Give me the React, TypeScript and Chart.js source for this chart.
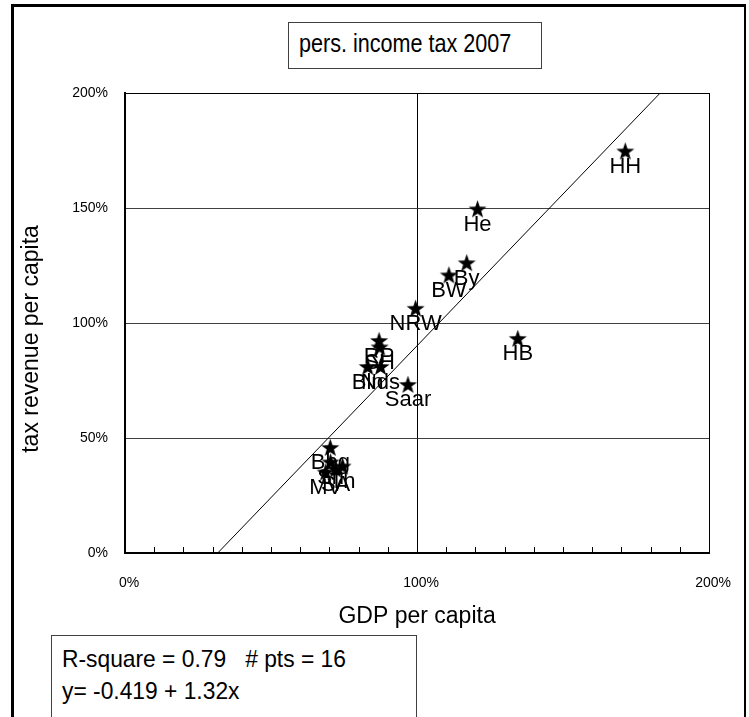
import React, { useEffect, useRef } from "react";
import { Chart, registerables } from "chart.js";

Chart.register(...registerables);

// ---- data ----
const STATES = ["HH", "He", "By", "BW", "NRW", "HB", "RP", "SH", "Bln", "Nds", "Saar", "Bbg", "Sn", "Th", "SA", "MV"];
const GDP_PER_CAPITA = [171.3, 120.7, 117.0, 110.9, 99.5, 134.5, 87.0, 87.2, 83.1, 87.5, 96.9, 70.3, 70.4, 74.5, 72.1, 68.7];
const TAX_PER_CAPITA = [174.8, 149.6, 126.2, 120.9, 106.4, 93.3, 92.4, 89.6, 81.1, 81.1, 73.3, 45.9, 39.6, 37.8, 36.5, 35.2];

const REG_INTERCEPT = -41.9; // percent points (= -0.419)
const REG_SLOPE = 1.32;
const AXIS_MIN = 0;
const AXIS_MAX = 200;
const X_TICK_STEP = 10;
const X_LABEL_STEP = 100;
const Y_TICK_STEP = 50;

const TITLE_TEXT = "pers. income tax 2007";
const X_TITLE = "GDP per capita";
const Y_TITLE = "tax revenue per capita";
const STATS_LINE1 = "R-square = 0.79   # pts = 16";
const STATS_LINE2 = "y= -0.419 + 1.32x";

const FONT = "'Liberation Sans', Arial, Helvetica, sans-serif";

function makeStar(r: number): HTMLCanvasElement {
  const c = document.createElement("canvas");
  const s = Math.ceil(r * 2 + 2);
  c.width = s;
  c.height = s;
  const g = c.getContext("2d")!;
  g.fillStyle = "#000";
  g.beginPath();
  const cx = s / 2;
  const cy = s / 2 + r * 0.09;
  for (let i = 0; i < 10; i++) {
    const rad = i % 2 === 0 ? r : r * 0.4;
    const a = -Math.PI / 2 + (i * Math.PI) / 5;
    const px = cx + rad * Math.cos(a);
    const py = cy + rad * Math.sin(a);
    if (i === 0) g.moveTo(px, py);
    else g.lineTo(px, py);
  }
  g.closePath();
  g.fill();
  return c;
}

const pointLabels = {
  id: "pointLabels",
  afterDatasetsDraw(chart: any) {
    const ctx = chart.ctx;
    const meta = chart.getDatasetMeta(0);
    ctx.save();
    ctx.fillStyle = "#000";
    ctx.font = `22px ${FONT}`;
    ctx.textAlign = "center";
    ctx.textBaseline = "middle";
    meta.data.forEach((el: any, i: number) => {
      ctx.fillText(STATES[i], el.x, el.y + 16);
    });
    ctx.restore();
  },
};

const innerTicks = {
  id: "innerTicks",
  afterDraw(chart: any) {
    const ctx = chart.ctx;
    const xs = chart.scales.x;
    const bottom = chart.chartArea.bottom;
    ctx.save();
    ctx.strokeStyle = "#000";
    ctx.lineWidth = 1;
    xs.ticks.forEach((t: any) => {
      if (t.value <= AXIS_MIN || t.value >= AXIS_MAX) return;
      const x = Math.round(xs.getPixelForValue(t.value)) + 0.5;
      ctx.beginPath();
      ctx.moveTo(x, bottom);
      ctx.lineTo(x, bottom - 6);
      ctx.stroke();
    });
    ctx.restore();
  },
};

export default function App() {
  const ref = useRef<HTMLCanvasElement | null>(null);

  useEffect(() => {
    if (!ref.current) return;
    Chart.defaults.font.family = FONT;
    const star = makeStar(9.5);
    const xStart = -REG_INTERCEPT / REG_SLOPE;
    const xEnd = (AXIS_MAX - REG_INTERCEPT) / REG_SLOPE;

    const chart = new Chart(ref.current, {
      type: "scatter",
      data: {
        datasets: [
          {
            type: "scatter",
            data: GDP_PER_CAPITA.map((x, i) => ({ x, y: TAX_PER_CAPITA[i] })),
            pointStyle: star as any,
            pointRadius: 9,
            order: 0,
          },
          {
            type: "line",
            data: [
              { x: xStart, y: REG_INTERCEPT + REG_SLOPE * xStart },
              { x: xEnd, y: REG_INTERCEPT + REG_SLOPE * xEnd },
            ],
            borderColor: "#000",
            borderWidth: 1,
            pointRadius: 0,
            fill: false,
            order: 1,
          } as any,
        ],
      },
      options: {
        responsive: false,
        animation: false,
        devicePixelRatio: 1,
        layout: { padding: { left: 12, right: 39, top: 93, bottom: 77 } },
        plugins: {
          legend: { display: false },
          tooltip: { enabled: false },
          title: { display: false },
        },
        scales: {
          x: {
            type: "linear",
            position: "bottom",
            min: AXIS_MIN,
            max: AXIS_MAX,
            afterFit: (s: any) => {
              s.height = 87;
            },
            ticks: {
              stepSize: X_TICK_STEP,
              autoSkip: false,
              maxRotation: 0,
              padding: 22,
              labelOffset: 4,
              color: "#000",
              font: { size: 14 },
              callback: (v: any) => (Number(v) % X_LABEL_STEP === 0 ? `${v}%` : ""),
            },
            grid: {
              drawTicks: false,
              lineWidth: 1,
              color: (c: any) =>
                c.tick && (c.tick.value === 100 || c.tick.value === 200) ? "#000" : "rgba(0,0,0,0)",
            },
            border: { color: "#000", width: 2 },
            title: {
              display: true,
              text: X_TITLE,
              color: "#000",
              font: { size: 23 },
              padding: { top: 0, bottom: 10 },
            },
          },
          y: {
            min: AXIS_MIN,
            max: AXIS_MAX,
            afterFit: (s: any) => {
              s.width = 113;
            },
            ticks: {
              stepSize: Y_TICK_STEP,
              padding: 17,
              color: "#000",
              font: { size: 14 },
              callback: (v: any) => `${v}%`,
            },
            grid: {
              drawTicks: false,
              lineWidth: 1,
              color: (c: any) =>
                c.tick && c.tick.value === 0 ? "rgba(0,0,0,0)" : c.tick && c.tick.value === 200 ? "#000" : "#404040",
            },
            border: { color: "#000", width: 2 },
            title: {
              display: true,
              text: Y_TITLE + "     ",
              color: "#000",
              font: { size: 23 },
              padding: { top: 6, bottom: 0 },
            },
          },
        },
      },
      plugins: [pointLabels, innerTicks],
    } as any);

    return () => chart.destroy();
  }, []);

  const textSpan = (top: number, size: number, sx: number): React.CSSProperties => ({
    position: "absolute",
    left: 10,
    top,
    fontSize: size,
    lineHeight: 1,
    whiteSpace: "pre",
    color: "#000",
    transform: `scaleX(${sx})`,
    transformOrigin: "left center",
  });

  return (
    <div
      style={{
        position: "absolute",
        left: 0,
        top: 0,
        width: 749,
        height: 717,
        overflow: "hidden",
        background: "#fff",
        fontFamily: FONT,
      }}
    >
      <canvas ref={ref} width={749} height={717} style={{ position: "absolute", left: 0, top: 0, width: 749, height: 717 }} />
      <div
        style={{
          position: "absolute",
          left: 11,
          top: 4,
          width: 735,
          height: 800,
          boxSizing: "border-box",
          borderLeft: "3px solid #000",
          borderTop: "3px solid #000",
          borderRight: "2px solid #000",
          pointerEvents: "none",
        }}
      />
      <div
        style={{
          position: "absolute",
          left: 288,
          top: 22,
          width: 254,
          height: 47,
          boxSizing: "border-box",
          border: "1px solid #404040",
          background: "#fff",
        }}
      >
        <span style={textSpan(7, 26, 0.83)}>{TITLE_TEXT}</span>
      </div>
      <div
        style={{
          position: "absolute",
          left: 51,
          top: 635,
          width: 366,
          height: 120,
          boxSizing: "border-box",
          border: "1px solid #404040",
          background: "#fff",
        }}
      >
        <span style={textSpan(11, 24, 0.95)}>{STATS_LINE1}</span>
        <span style={textSpan(43, 24, 0.95)}>{STATS_LINE2}</span>
      </div>
    </div>
  );
}
